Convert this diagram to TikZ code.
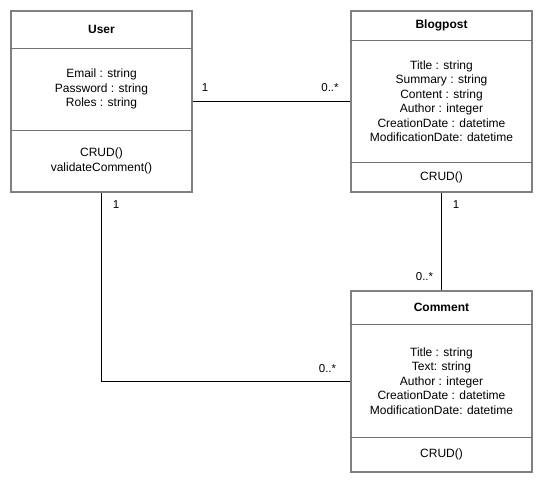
\documentclass[tikz,border=0pt]{standalone}
\usepackage{fontspec}
\setmainfont{Liberation Sans}
\begin{document}
\begin{tikzpicture}[x=1pt,y=-1pt,
  classbox/.style={draw=black!50, line width=2pt, fill=white, inner sep=0pt, minimum width=181pt},
  shadowbox/.style={fill=black, inner sep=0pt, minimum width=181pt},
  divider/.style={draw=black!55, line width=0.8pt},
  txt/.style={font=\fontsize{12}{14.5}\selectfont, align=center, inner sep=0pt},
  title/.style={font=\fontsize{12}{14.5}\selectfont\bfseries, inner sep=0pt},
  mult/.style={font=\fontsize{11.5}{14}\selectfont, inner sep=0pt},
  assoc/.style={draw=black, line width=1pt}]
\useasboundingbox (0,0) rectangle (542,482);
% shadows
\node[shadowbox, minimum height=181pt] at (102.5,102.5) {};
\node[shadowbox, minimum height=181pt] at (442.5,102.5) {};
\node[shadowbox, minimum height=181pt] at (442.5,382.5) {};
% class boxes
\node[classbox, minimum height=181pt] (user) at (101.5,101.5) {};
\node[classbox, minimum height=181pt] (blog) at (441.5,101.5) {};
\node[classbox, minimum height=181pt] (comment) at (441.5,381.5) {};
% dividers
\draw[divider] (user.west |- 0,48) coordinate (u1) -- (user.east |- 0,48);
\draw[divider] (user.west |- 0,130) -- (user.east |- 0,130);
\draw[divider] (blog.west |- 0,40) -- (blog.east |- 0,40);
\draw[divider] (blog.west |- 0,162) -- (blog.east |- 0,162);
\draw[divider] (comment.west |- 0,324) -- (comment.east |- 0,324);
\draw[divider] (comment.west |- 0,437) -- (comment.east |- 0,437);
% texts
\node[title] (utitle) at (101.5,29.5) {User};
\node[txt] (uattr) at (101.5,89) {Email : string\\Password : string\\Roles : string};
\node[txt] (umeth) at (101.5,161) {CRUD()\\validateComment()};
\node[title] (btitle) at (441.5,25.5) {Blogpost};
\node[txt] (battr) at (441.5,101) {Title : string\\Summary : string\\Content : string\\Author : integer\\CreationDate : datetime\\ModificationDate: datetime};
\node[txt] (bmeth) at (441.5,177) {CRUD()};
\node[title] (ctitle) at (441.5,307.5) {Comment};
\node[txt] (cattr) at (441.5,381) {Title : string\\Text: string\\Author : integer\\CreationDate : datetime\\ModificationDate: datetime};
\node[txt] (cmeth) at (441.5,454.5) {CRUD()};
% associations
\draw[assoc] (user) -- (blog);
\draw[assoc] (user.south) |- (comment.west);
\draw[assoc] (blog.south) -- (comment.north);
% multiplicities
\node[mult] (m1) at (205,87.5) {1};
\node[mult] (m2) at (330,87.5) {0..*};
\node[mult] (m3) at (116,205) {1};
\node[mult] (m4) at (456,205) {1};
\node[mult] (m5) at (424.5,277) {0..*};
\node[mult] (m6) at (327.5,369) {0..*};
\end{tikzpicture}
\end{document}
